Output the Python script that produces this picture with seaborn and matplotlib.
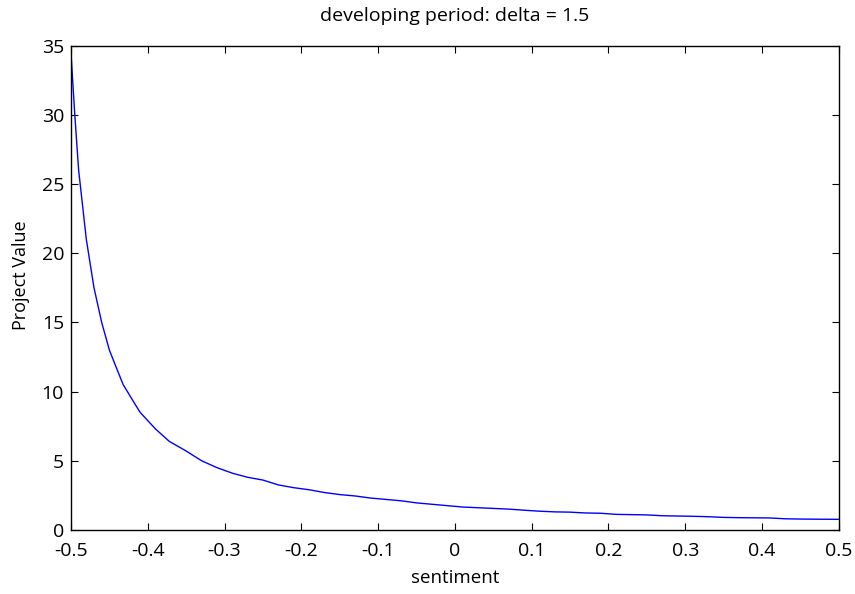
import numpy as np
import pandas as pd
import seaborn as sns
import matplotlib.pyplot as plt

# values
sentiment = [-0.500, -0.495, -0.490, -0.480, -0.470, -0.460, -0.450, -0.440, -0.432,
             -0.420, -0.410, -0.400, -0.390, -0.372, -0.350, -0.330, -0.310, -0.290,
             -0.270, -0.250, -0.230, -0.210, -0.190, -0.170, -0.150, -0.130, -0.110,
             -0.090, -0.070, -0.050, -0.030, -0.010, 0.010, 0.030, 0.050, 0.070,
             0.090, 0.110, 0.130, 0.150, 0.170, 0.190, 0.210, 0.230, 0.250, 0.270,
             0.290, 0.310, 0.330, 0.350, 0.370, 0.390, 0.410, 0.430, 0.450, 0.470, 0.500]
project_value = [34.5, 30.0, 26.0, 21.0, 17.5, 15.0, 13.0, 11.6, 10.5,
                 9.4, 8.5, 7.9, 7.3, 6.4, 5.7, 5.0, 4.5, 4.1,
                 3.8, 3.6, 3.25, 3.05, 2.9, 2.7, 2.55, 2.45, 2.3,
                 2.2, 2.1, 1.95, 1.85, 1.75, 1.65, 1.6, 1.55, 1.5,
                 1.42, 1.35, 1.3, 1.28, 1.22, 1.2, 1.12, 1.1, 1.08, 1.02,
                 1.0, 0.98, 0.95, 0.9, 0.88, 0.87, 0.86, 0.8, 0.78, 0.77, 0.76]
x_ticks = [-0.5, -0.4, -0.3, -0.2, -0.1, 0, 0.1, 0.2, 0.3, 0.4, 0.5]
x_labels = ['-0.5', '-0.4', '-0.3', '-0.2', '-0.1', '0', '0.1', '0.2', '0.3', '0.4', '0.5']
y_ticks = [0, 5, 10, 15, 20, 25, 30, 35]

df = pd.DataFrame({'sentiment': sentiment, 'value': project_value})

sns.set_style('ticks')
plt.rcParams['font.family'] = ['Open Sans', 'DejaVu Sans']
plt.rcParams['text.color'] = 'black'
plt.rcParams['axes.labelcolor'] = 'black'

fig = plt.figure(figsize=(8.55, 5.94), dpi=100)
ax = fig.add_axes([0.083, 0.108, 0.898, 0.815])
sns.lineplot(data=df, x='sentiment', y='value', color='blue', linewidth=1.0, ax=ax)

ax.set_xlim(-0.5, 0.5)
ax.set_ylim(0, 35)
ax.set_xticks(x_ticks)
ax.set_xticklabels(x_labels)
ax.set_yticks(y_ticks)
ax.tick_params(direction='in', top=True, right=True, length=5, width=0.8,
               labelsize=14, colors='black')
ax.tick_params(axis='x', pad=9)
ax.tick_params(axis='y', pad=5)
for s in ax.spines.values():
    s.set_linewidth(1.0)
    s.set_color('black')
ax.set_xlabel('sentiment', fontsize=13.5, labelpad=6, color='black')
ax.set_ylabel('Project Value', fontsize=13, color='black')
ax.yaxis.set_label_coords(-0.054, 0.527)
ax.set_title('developing period: delta = 1.5', fontsize=14, pad=18, color='black')

fig.savefig('out.png', dpi=100)
